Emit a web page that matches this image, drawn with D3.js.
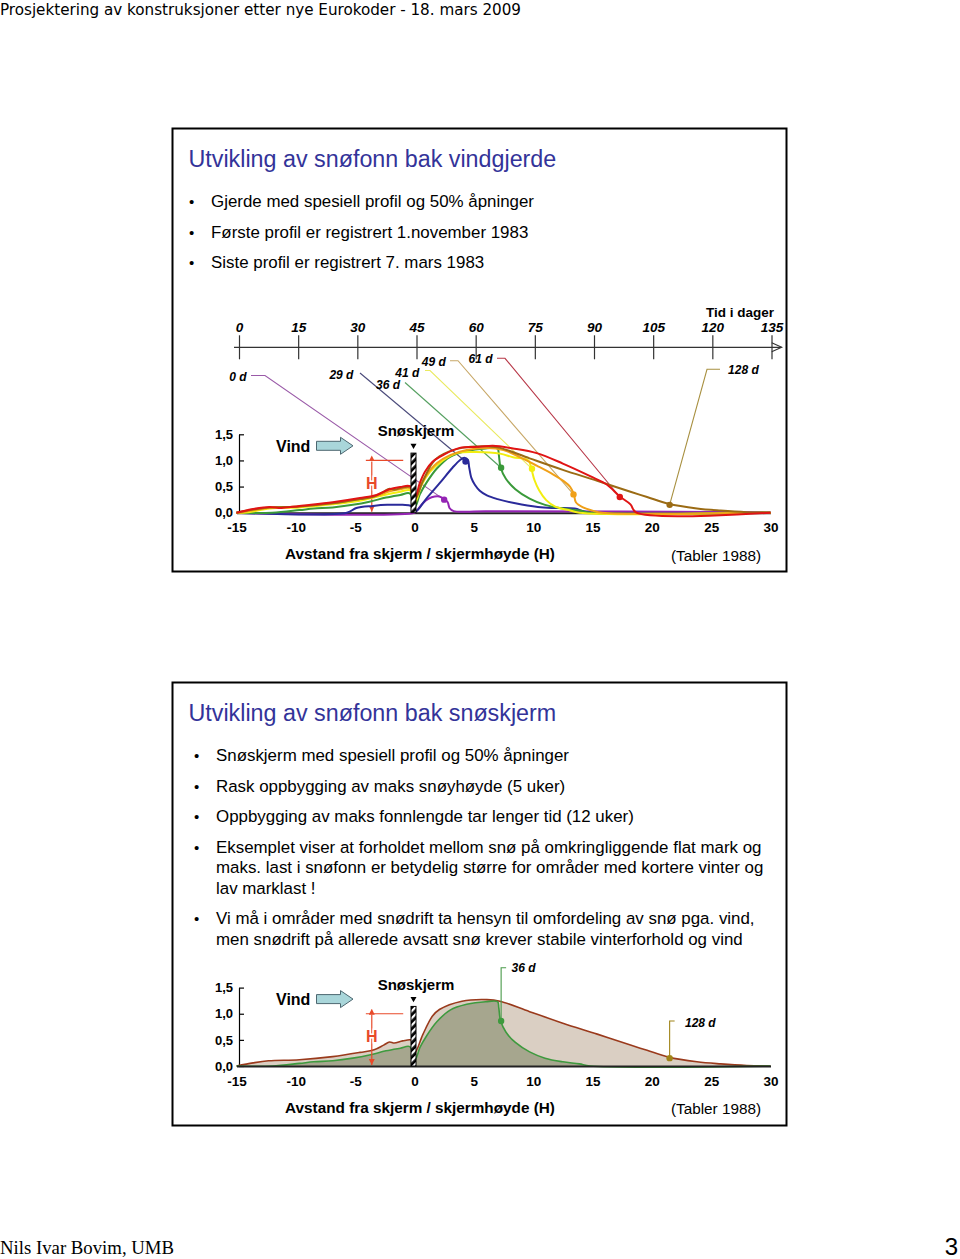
<!DOCTYPE html>
<html><head><meta charset="utf-8">
<script src="https://cdn.jsdelivr.net/npm/d3@7"></script>
<style>body{margin:0;background:#fff}svg{display:block}</style>
</head><body>
<svg id="c" width="960" height="1259"></svg>
<script>
// ---------- DATA ----------
const xTicks = [-15,-10,-5,0,5,10,15,20,25,30];
const yTicks = [0,0.5,1.0,1.5];
const timeTicks = [0,15,30,45,60,75,90,105,120,135];
const dayLabels = ["0 d","29 d","36 d","41 d","49 d","61 d","128 d"];
const days = [0,29,36,41,49,61,128];

const p0 = [[-15,0],[0,0],[0.2,0.04],[0.7,0.18],[1.2,0.27],[1.7,0.31],[2.1,0.31],[2.5,0.26],[2.8,0.2],[2.95,0.09],[3.3,0.03],[6,0.03],[30,0.01]];
const p29 = [[-15,0],[-5.7,0],[-4.9,0.09],[-3.5,0.13],[-2.3,0.15],[-1.0,0.15],[-0.3,0.13],[0.05,0.02],[1.0,0.27],[2.1,0.56],[3.2,0.86],[3.8,1.0],[4.2,1.05],[4.5,1.01],[4.6,0.88],[4.8,0.66],[5.1,0.53],[5.5,0.42],[6.1,0.33],[7.0,0.26],[8.5,0.18],[10.4,0.11],[11.7,0.09],[13.5,0.08],[14.6,0.01],[30,0]];
const p36 = [[-15,0],[-12,0],[-9.7,0.05],[-8.5,0.08],[-6.9,0.1],[-5.2,0.15],[-3.8,0.21],[-2.4,0.29],[-1.2,0.34],[-0.4,0.37],[0.05,0.12],[0.45,0.35],[1.0,0.57],[1.9,0.85],[3.0,1.07],[4.4,1.18],[6.0,1.23],[7.0,1.23],[7.1,1.12],[7.25,0.87],[7.7,0.65],[8.5,0.45],[9.7,0.27],[11.0,0.15],[12.5,0.08],[13.9,0.04],[14.8,0],[30,0]];
const p41 = [[-15,0],[-14,0.01],[-12.2,0.08],[-9.7,0.1],[-6.9,0.16],[-4.6,0.23],[-2.7,0.33],[-1.2,0.4],[-0.4,0.43],[0.05,0.2],[0.6,0.53],[1.3,0.78],[2.4,1.0],[3.6,1.14],[5.2,1.16],[7.2,1.13],[8.3,1.06],[9.6,1.0],[9.85,0.84],[10.1,0.63],[10.5,0.43],[11.1,0.24],[11.9,0.11],[13.0,0.05],[13.9,0],[30,0]];
const p49 = [[-15,0],[-14.5,0.01],[-13,0.07],[-12,0.1],[-9.7,0.12],[-6.9,0.18],[-4.6,0.26],[-3.2,0.32],[-2.1,0.41],[-1.2,0.45],[-0.4,0.47],[0.05,0.28],[0.45,0.5],[1.0,0.72],[1.9,0.95],[3.0,1.1],[4.4,1.2],[6.1,1.24],[7.5,1.2],[9.0,1.05],[10.3,0.9],[11.7,0.73],[12.6,0.6],[13.1,0.5],[13.3,0.42],[13.45,0.33],[13.6,0.2],[14.2,0.1],[15,0.04],[15.8,0],[30,0]];
const p61 = [[-15,0],[-13.6,0.07],[-12.2,0.11],[-11.2,0.09],[-9.7,0.13],[-6.9,0.2],[-4.6,0.28],[-3.2,0.34],[-2.1,0.45],[-1.2,0.49],[-0.4,0.51],[0.05,0.3],[0.45,0.57],[0.87,0.78],[1.5,0.97],[2.4,1.1],[3.8,1.24],[5.5,1.26],[6.6,1.28],[8.3,1.23],[10.3,1.14],[12.5,0.94],[14.8,0.7],[16.2,0.54],[17.3,0.31],[18.2,0.16],[18.7,0],[30,0]];
const p128 = [[-15,0],[-13.6,0.06],[-12.3,0.1],[-9.7,0.12],[-6.9,0.18],[-4.6,0.26],[-3.4,0.31],[-2.6,0.4],[-2.1,0.46],[-1.7,0.44],[-1.0,0.48],[-0.2,0.49],[0.05,0.26],[0.7,0.6],[1.5,0.95],[2.1,1.08],[4.0,1.24],[6.1,1.27],[7.2,1.24],[9.7,1.04],[12.5,0.82],[15.4,0.61],[18.2,0.4],[19.6,0.3],[21.4,0.17],[23.8,0.08],[25.8,0.04],[28,0.01],[30,0]];
const profiles = [p0,p29,p36,p41,p49,p61,p128];
const markers = [[2.5,0.25],[4.3,0.98],[7.3,0.86],[9.9,0.84],[13.4,0.35],[17.3,0.3],[21.5,0.15]];

const topBullets = ["Gjerde med spesiell profil og 50% åpninger","Første profil er registrert 1.november 1983","Siste profil er registrert 7. mars 1983"];
const botBullets = [["Snøskjerm med spesiell profil og 50% åpninger"],["Rask oppbygging av maks snøyhøyde (5 uker)"],["Oppbygging av maks fonnlengde tar lenger tid (12 uker)"],["Eksemplet viser at forholdet mellom snø på omkringliggende flat mark og","maks. last i snøfonn er betydelig større for områder med kortere vinter og","lav marklast !"],["Vi må i områder med snødrift ta hensyn til omfordeling av snø pga. vind,","men snødrift på allerede avsatt snø krever stabile vinterforhold og vind"]];

// ---------- STYLE ----------
const lineColors = ["#9424b4","#2a2a9a","#3a9a3a","#f2ee10","#f0a018","#e01414","#9b6b14"];
const leadColors = ["#9a5aa8","#4a4a7a","#55a060","#eaea60","#c8a868","#b83848","#a89040"];
const SANS = "'Liberation Sans', Arial, Helvetica, sans-serif";

const svg = d3.select("#c");
svg.append("rect").attr("width",960).attr("height",1259).attr("fill","#fff");
const defs = svg.append("defs");
const pat = defs.append("pattern").attr("id","hatch").attr("patternUnits","userSpaceOnUse")
  .attr("width",5).attr("height",5).attr("patternTransform","rotate(-45)");
pat.append("rect").attr("width",5).attr("height",5).attr("fill","#000");
pat.append("rect").attr("width",5).attr("height",2.2).attr("fill","#fff");
["hS","hE"].forEach((id,k)=>{
  defs.append("marker").attr("id",id).attr("viewBox","0 0 10 10").attr("refX",k?10:0).attr("refY",5)
    .attr("markerWidth",5).attr("markerHeight",5).attr("orient","auto-start-reverse")
    .append("path").attr("d","M0,0 L10,5 L0,10 z").attr("fill","#e84a2a");
});

// header / footer
svg.append("text").attr("x",0).attr("y",14.5).attr("font-family","'DejaVu Sans Condensed','DejaVu Sans',sans-serif")
  .attr("font-size",16).attr("textLength",521).attr("lengthAdjust","spacingAndGlyphs").attr("fill","#000")
  .text("Prosjektering av konstruksjoner etter nye Eurokoder - 18. mars 2009");
svg.append("text").attr("x",0).attr("y",1254).attr("font-family","'Liberation Serif','Times New Roman',serif")
  .attr("font-size",19).attr("textLength",174).attr("lengthAdjust","spacingAndGlyphs").text("Nils Ivar Bovim, UMB");
svg.append("text").attr("x",958).attr("y",1255).attr("text-anchor","end").attr("font-family","'Liberation Sans Narrow','Liberation Sans',sans-serif")
  .attr("font-size",24).text("3");

// slide boxes
function slideBox(y0, title, bx, tx, bullets, startY){
  svg.append("rect").attr("x",172.5).attr("y",y0+0.5).attr("width",614).attr("height",443)
    .attr("fill","none").attr("stroke","#000").attr("stroke-width",2);
  svg.append("text").attr("x",188.5).attr("y",y0+39).attr("font-family",SANS).attr("font-size",23.3)
    .attr("fill","#333399").text(title);
  let y = startY;
  bullets.forEach(b=>{
    const lines = Array.isArray(b)?b:[b];
    svg.append("text").attr("x",bx).attr("y",y).attr("font-family",SANS).attr("font-size",15).text("•");
    lines.forEach((l,i)=>{
      svg.append("text").attr("x",tx).attr("y",y+i*20.5).attr("font-family",SANS)
        .attr("font-size",16.9).attr("fill","#000").text(l);
    });
    y += (lines.length-1)*20.5 + 30.5;
  });
}
slideBox(128,"Utvikling av snøfonn bak vindgjerde",189,211,topBullets,207);
slideBox(682,"Utvikling av snøfonn bak snøskjerm",194,216,botBullets,761);

// ---------- CHARTS ----------
const xs = d3.scaleLinear().domain([-15,30]).range([236.5,770.5]);
const fmt = v => d3.format(".1f")(v).replace(".",",");
const curve = d3.curveCatmullRom.alpha(0.5);

function chartFrame(y0base){
  const ys = d3.scaleLinear().domain([0,1.5]).range([y0base, y0base-78.4]);
  const g = svg.append("g");
  const ya = g.append("g").attr("transform",`translate(${xs(-15)+2.5},0)`)
    .call(d3.axisLeft(ys).tickValues(yTicks).tickFormat(fmt).tickSize(-5).tickSizeOuter(0).tickPadding(6));
  ya.select(".domain").attr("stroke","#000").attr("stroke-width",1.2);
  ya.selectAll(".tick line").attr("stroke","#000").attr("stroke-width",1.2);
  ya.selectAll("text").attr("font-family",SANS).attr("font-size",13).attr("font-weight","bold").attr("fill","#000");
  return {g, ys};
}
function xAxis(g, ys, y0base){
  const xa = g.append("g").attr("transform",`translate(0,${y0base})`)
    .call(d3.axisBottom(xs).tickValues(xTicks).tickFormat(d=>String(d)).tickSize(0).tickPadding(10));
  xa.select(".domain").attr("stroke","#222").attr("stroke-width",2);
  xa.selectAll("text").attr("font-family",SANS).attr("font-size",13.5).attr("font-weight","bold").attr("fill","#000");
  g.append("text").attr("x",420).attr("y",y0base+46.5).attr("text-anchor","middle").attr("font-family",SANS)
    .attr("font-size",15.3).attr("font-weight","bold").text("Avstand fra skjerm / skjermhøyde (H)");
  g.append("text").attr("x",716).attr("y",y0base+48).attr("text-anchor","middle").attr("font-family",SANS)
    .attr("font-size",15.3).text("(Tabler 1988)");
}
function decorations(g, ys){
  const yc = ys(1.28);
  g.append("text").attr("x",276).attr("y",yc+6).attr("font-family",SANS).attr("font-size",16).attr("font-weight","bold").text("Vind");
  const ax = 316.5;
  g.append("path").attr("d",`M${ax},${yc-4.5} H${ax+24} V${yc-8.5} L${ax+36.5},${yc} L${ax+24},${yc+8.5} V${yc+4.5} H${ax} Z`)
    .attr("fill","#a9d6da").attr("stroke","#4d6770").attr("stroke-width",1);
  g.append("text").attr("x",416).attr("y",ys(1.48)+1).attr("text-anchor","middle").attr("font-family",SANS)
    .attr("font-size",15).attr("font-weight","bold").text("Snøskjerm");
  const fx = xs(0)-1;
  g.append("path").attr("d",`M${fx-3},${ys(1.32)} L${fx+3},${ys(1.32)} L${fx},${ys(1.22)} Z`).attr("fill","#000");
  g.append("line").attr("x1",xs(-4.1)).attr("x2",xs(-0.95)).attr("y1",ys(1)).attr("y2",ys(1))
    .attr("stroke","#e84a2a").attr("stroke-width",1.2);
  g.append("line").attr("x1",xs(-3.6)).attr("x2",xs(-3.6)).attr("y1",ys(1)+1).attr("y2",ys(0)-1)
    .attr("stroke","#e84a2a").attr("stroke-width",1.2).attr("marker-start","url(#hS)").attr("marker-end","url(#hE)");
  g.append("text").attr("x",xs(-3.6)).attr("y",ys(0.57)+6).attr("text-anchor","middle").attr("font-family",SANS)
    .attr("font-size",16).attr("font-weight","bold").attr("fill","#e84a2a")
    .attr("stroke","#fff").attr("stroke-width",3).attr("paint-order","stroke").text("H");
}
function fence(g, ys){
  const fx = xs(0)-1;
  g.append("rect").attr("x",fx-2.5).attr("y",ys(1.14)).attr("width",5).attr("height",ys(0)-ys(1.14))
    .attr("fill","url(#hatch)").attr("stroke","#000").attr("stroke-width",1);
}

// ----- top chart -----
{
  const base = 512.7;
  const {g, ys} = chartFrame(base);
  const ts = d3.scaleLinear().domain([0,135]).range([239,771.5]);
  const ty = 347.3;
  const ta = g.append("g").attr("transform",`translate(0,${ty})`)
    .call(d3.axisBottom(ts).tickValues(timeTicks).tickSize(0).tickSizeOuter(0));
  ta.select(".domain").remove();
  ta.selectAll(".tick line").remove();
  ta.selectAll(".tick").append("line").attr("y1",-12).attr("y2",12).attr("stroke","#333").attr("stroke-width",1.2);
  ta.selectAll(".tick text").attr("y",-15.5).attr("dy",0).attr("font-family",SANS).attr("font-size",13.5)
    .attr("font-weight","bold").attr("font-style","italic").attr("fill","#000");
  g.append("line").attr("x1",234).attr("x2",781.5).attr("y1",ty).attr("y2",ty).attr("stroke","#333").attr("stroke-width",1.2);
  g.append("path").attr("d",`M771.7,${ty-4.6} L781.7,${ty} L771.7,${ty+4.4}`).attr("fill","none").attr("stroke","#333").attr("stroke-width",1.1);
  g.append("text").attr("x",740).attr("y",317.3).attr("text-anchor","middle").attr("font-family",SANS)
    .attr("font-size",13.5).attr("font-weight","bold").text("Tid i dager");

  const labLayout = [
    {dx:-1, y:380.5, lead:[[251,375.5],[265,375.5]]},
    {dx:-12, y:379, lead:[[360,373]]},
    {dx:7, y:389, lead:[[405,382.5]]},
    {dx:6.5, y:376.5, lead:[[425,370.5],[430,370.5]]},
    {dx:1.5, y:366, lead:[[450,360.7],[458,360.7]]},
    {dx:1, y:363, lead:[[497,358.3],[505,358.3]]},
    {dx:-0.5, y:374, lead:[[720,369.3],[707,369.3]]}
  ];
  days.forEach((d,i)=>{
    const L = labLayout[i];
    g.append("text").attr("x",ts(d)+L.dx).attr("y",L.y).attr("text-anchor","middle").attr("font-family",SANS)
      .attr("font-size",12).attr("font-weight","bold").attr("font-style","italic").text(dayLabels[i]);
    const pts = L.lead.concat([[xs(markers[i][0]), ys(markers[i][1])]]);
    g.append("path").attr("d",d3.line()(pts)).attr("fill","none").attr("stroke",leadColors[i]).attr("stroke-width",1.1);
  });

  decorations(g, ys);
  xAxis(g, ys, base);
  const line = d3.line().x(d=>xs(d[0])).y(d=>ys(d[1])).curve(curve);
  const order = [0,1,2,3,4,6,5];
  order.forEach(i=>{
    g.append("path").attr("d",line(profiles[i])).attr("fill","none").attr("stroke",lineColors[i])
      .attr("stroke-width",2).attr("stroke-linejoin","round");
  });
  fence(g, ys);
  order.forEach(i=>{
    g.append("circle").attr("cx",xs(markers[i][0])).attr("cy",ys(markers[i][1])).attr("r",3.2).attr("fill",lineColors[i]);
  });
}

// ----- bottom chart -----
{
  const base = 1066;
  const {g, ys} = chartFrame(base);
  const area = d3.area().x(d=>xs(d[0])).y0(ys(0)).y1(d=>ys(d[1])).curve(curve);
  const line = d3.line().x(d=>xs(d[0])).y(d=>ys(d[1])).curve(curve);
  g.append("path").attr("d",area(p128)).attr("fill","#dacfc3");
  g.append("path").attr("d",area(p36)).attr("fill","#a6a68e");
  g.append("path").attr("d",line(p128)).attr("fill","none").attr("stroke","#9a3a1c").attr("stroke-width",1.6);
  g.append("path").attr("d",line(p36)).attr("fill","none").attr("stroke","#3e9a3e").attr("stroke-width",1.6);
  decorations(g, ys);
  xAxis(g, ys, base);
  fence(g, ys);
  const ann = [{i:2, top:967.7, lx:511.5, ly:972.3, col:"#4a9a4a", dot:"#3e9a3e"},
               {i:6, top:1021, lx:685, ly:1026.5, col:"#a08418", dot:"#a08418"}];
  ann.forEach(a=>{
    const mx = xs(markers[a.i][0]), my = ys(markers[a.i][1]);
    g.append("path").attr("d",`M${mx},${my} V${a.top} H${mx+5}`).attr("fill","none").attr("stroke",a.col).attr("stroke-width",1.1);
    g.append("circle").attr("cx",mx).attr("cy",my).attr("r",3.2).attr("fill",a.dot);
    g.append("text").attr("x",a.lx).attr("y",a.ly).attr("font-family",SANS).attr("font-size",12)
      .attr("font-weight","bold").attr("font-style","italic").text(dayLabels[a.i]);
  });
}
</script>
</body></html>
